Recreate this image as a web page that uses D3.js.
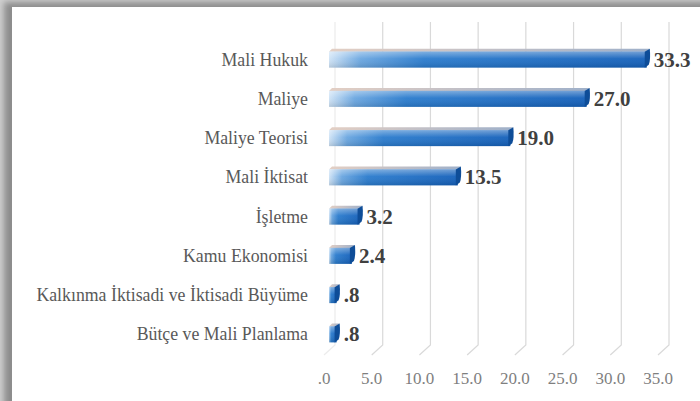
<!DOCTYPE html>
<html><head><meta charset="utf-8">
<script src="https://cdn.jsdelivr.net/npm/d3@7"></script>
<style>html,body{margin:0;padding:0;background:#fff;}svg{display:block;}
text{font-family:"Liberation Serif","Tinos","Times New Roman","Noto Serif","DejaVu Serif",serif;}</style>
</head><body>
<svg id="c" width="700" height="401"></svg>
<script>
const categories = ["Mali Hukuk","Maliye","Maliye Teorisi","Mali İktisat","İşletme","Kamu Ekonomisi","Kalkınma İktisadi ve İktisadi Büyüme","Bütçe ve Mali Planlama"];
const values = [33.3, 27.0, 19.0, 13.5, 3.2, 2.4, 0.8, 0.8];
const tickValues = [0,5,10,15,20,25,30,35];

const fmt = v => { const s = d3.format(".1f")(v); return s.startsWith("0") ? s.slice(1) : s; };

const svg = d3.select("#c");
const defs = svg.append("defs");
const blur = defs.append("filter").attr("id","sh").attr("x","-5%").attr("y","-5%").attr("width","110%").attr("height","110%");
blur.append("feGaussianBlur").attr("stdDeviation",3);

// frame shadow
svg.append("rect").attr("x",0).attr("y",0).attr("width",700).attr("height",401).attr("fill","#d0d0d0");
svg.append("rect").attr("x",4).attr("y",2).attr("width",710).attr("height",410).attr("fill","#8c8c8c").attr("filter","url(#sh)");
svg.append("rect").attr("x",12).attr("y",7).attr("width",700).attr("height",400).attr("fill","#fff");

const x = d3.scaleLinear().domain([0,35]).range([324,658]);
const y = d3.scaleBand().domain(categories).range([40,354]);
const DX = 11, DY = 10, BX = 5;

// gradients
const gFront = defs.append("linearGradient").attr("id","gf").attr("x1",0).attr("x2",1).attr("y1",0).attr("y2",0);
gFront.append("stop").attr("offset","0%").attr("stop-color","#cfe3f6");
gFront.append("stop").attr("offset","10%").attr("stop-color","#6aa6e0");
gFront.append("stop").attr("offset","30%").attr("stop-color","#2a7bcd");
gFront.append("stop").attr("offset","100%").attr("stop-color","#1460ba");
const gV = defs.append("linearGradient").attr("id","gv").attr("x1",0).attr("x2",0).attr("y1",0).attr("y2",1);
gV.append("stop").attr("offset","0%").attr("stop-color","#fff").attr("stop-opacity",0.4);
gV.append("stop").attr("offset","45%").attr("stop-color","#fff").attr("stop-opacity",0.05);
gV.append("stop").attr("offset","100%").attr("stop-color","#000").attr("stop-opacity",0.12);
const gTop = defs.append("linearGradient").attr("id","gt").attr("x1",0).attr("x2",1).attr("y1",0).attr("y2",0);
gTop.append("stop").attr("offset","0%").attr("stop-color","#e3cfc4");
gTop.append("stop").attr("offset","100%").attr("stop-color","#9fb0c9");

// gridlines (3D wall + floor slant)
const grid = svg.append("g");
tickValues.forEach(t => {
  const bx = x(t) + DX;
  grid.append("path")
    .attr("d", `M${bx},22 L${bx},345 L${x(t)},${345+DY}`)
    .attr("fill","none").attr("stroke", t===0 ? "#ececec" : "#d9d9d9").attr("stroke-width",1.2);
});

// tick labels
svg.append("g").selectAll("text").data(tickValues).join("text")
  .attr("x", d => x(d)).attr("y", 384)
  .attr("text-anchor","middle")
  .attr("font-size",17).attr("fill","#7f7f7f")
  .text(d => fmt(d));

// category labels
svg.append("g").selectAll("text").data(categories).join("text")
  .attr("x", 308).attr("y", d => y(d) + y.bandwidth()/2 + 6)
  .attr("text-anchor","end")
  .attr("font-size",17.8).attr("fill","#595959")
  .text(d => d);

// bars
const H = 16, T = 3, TD = 3;
const bars = svg.append("g").selectAll("g").data(categories).join("g");
bars.each(function(c, i){
  const g = d3.select(this);
  const cy = y(c) + y.bandwidth()/2;
  const x0 = x(0) + BX, x1 = x(values[i]) + BX;
  const top = cy - H/2;
  g.append("path")
    .attr("d", `M${x0},${top} L${x1},${top} L${x1+TD},${top-T} L${x0+TD},${top-T} Z`)
    .attr("fill","url(#gt)");
  g.append("rect").attr("x",x0).attr("y",top).attr("width",x1-x0).attr("height",H).attr("fill","url(#gf)");
  g.append("rect").attr("x",x0).attr("y",top).attr("width",x1-x0).attr("height",H).attr("fill","url(#gv)");
  g.append("path")
    .attr("d", `M${x1-2},${top} L${x1+TD},${top-T} Q${x1+TD+1},${cy} ${x1+TD-1},${top+H-3} L${x1-2},${top+H} Z`)
    .attr("fill","#0e4d98");
  g.append("text")
    .attr("x", x1 + TD + 4).attr("y", cy + 7)
    .attr("font-weight","bold").attr("font-size",21).attr("fill","#404040")
    .text(fmt(values[i]));
});
</script>
</body></html>
